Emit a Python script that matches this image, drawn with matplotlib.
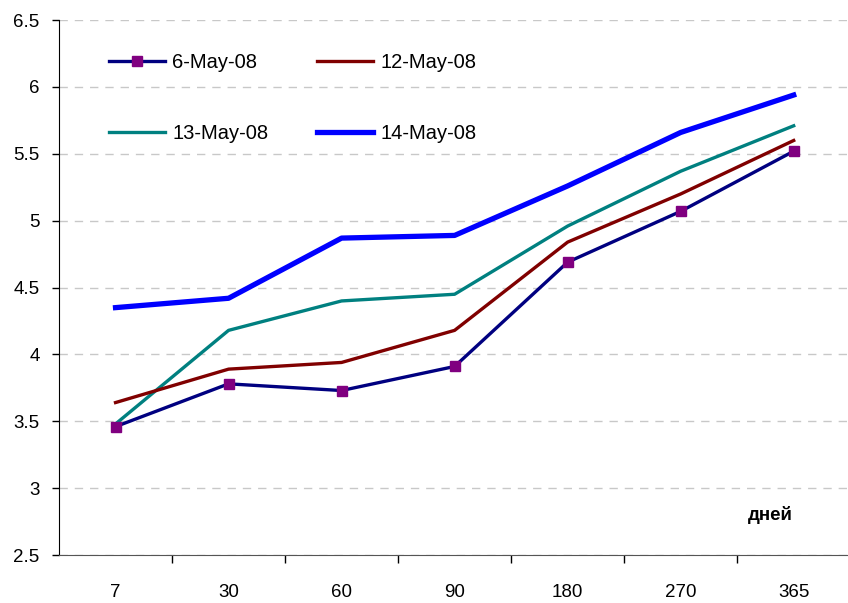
import numpy as np
import matplotlib
matplotlib.use("Agg")
import matplotlib.pyplot as plt
from matplotlib.ticker import FixedLocator

plt.rcParams['font.family'] = ['Liberation Sans', 'DejaVu Sans']

days = ["7", "30", "60", "90", "180", "270", "365"]
may06 = [3.46, 3.78, 3.73, 3.91, 4.69, 5.07, 5.52]
may12 = [3.64, 3.89, 3.94, 4.18, 4.84, 5.20, 5.60]
may13 = [3.48, 4.18, 4.40, 4.45, 4.96, 5.37, 5.71]
may14 = [4.35, 4.42, 4.87, 4.89, 5.26, 5.66, 5.94]

x = np.arange(len(days))

fig = plt.figure(figsize=(8.48, 6.03), dpi=100)
ax = fig.add_axes([0.0696, 0.0796, 0.933, 0.887])

l1, = ax.plot(x, may06, color="#000080", lw=2.4, marker="s", ms=7.5,
              mfc="#800080", mec="#800080", label="6-May-08", zorder=5)
l2, = ax.plot(x, may12, color="#800000", lw=2.4, label="12-May-08", zorder=4)
l3, = ax.plot(x, may13, color="#008080", lw=2.4, label="13-May-08", zorder=3)
l4, = ax.plot(x, may14, color="#0000FF", lw=3.8, label="14-May-08", zorder=2)

ax.set_xlim(-0.5, len(days) - 0.5)
ax.set_ylim(2.5, 6.5)
ax.set_yticks(np.arange(2.5, 6.51, 0.5))
ax.set_yticklabels(["2.5", "3", "3.5", "4", "4.5", "5", "5.5", "6", "6.5"])

# category axis: ticks between categories, labels centred
ax.xaxis.set_major_locator(FixedLocator(np.arange(0.5, len(days) - 1, 1.0)))
ax.xaxis.set_minor_locator(FixedLocator(x))
ax.set_xticklabels([], minor=False)
ax.set_xticklabels(days, minor=True)
ax.tick_params(axis="x", which="major", direction="out", length=6, width=1)
ax.tick_params(axis="x", which="minor", length=0, pad=21, labelsize=13.5)
ax.tick_params(axis="y", direction="out", length=5, width=1, pad=9, labelsize=13.5)

ax.grid(axis="y", color="#c8c8c8", ls=(0, (6, 5)), lw=1)
ax.set_axisbelow(True)
for s in ["top", "right"]:
    ax.spines[s].set_visible(False)
ax.spines["left"].set_color("black")
ax.spines["bottom"].set_color("#555555")

ax.text(5.79, 2.8, "дней", fontsize=13.5, fontweight="bold", ha="center", va="center")

ax.legend([l1, l3, l2, l4], ["6-May-08", "13-May-08", "12-May-08", "14-May-08"],
          ncol=2, loc="upper left", bbox_to_anchor=(0.04, 0.972), frameon=False,
          fontsize=14.5, handlelength=2.8, handletextpad=0.35, columnspacing=2.4,
          labelspacing=2.55)

fig.savefig("out.png", dpi=100)
